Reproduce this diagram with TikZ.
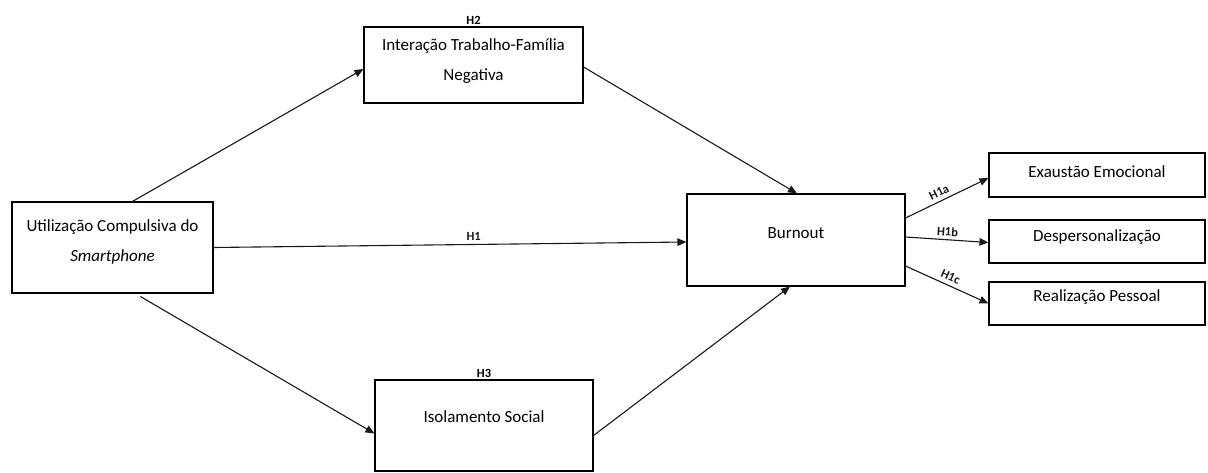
\documentclass[tikz,border=0pt]{standalone}
\usepackage{fontspec}
\setmainfont{Carlito}
\usetikzlibrary{arrows.meta, positioning}

\begin{document}
\begin{tikzpicture}[x=1pt,y=-1pt]
    % Research model: compulsive smartphone use, mediators and burnout dimensions.

    \tikzset{
      box/.style={draw, line width=1.1pt, inner sep=0pt},
      boxtext/.style={font=\fontsize{17}{30}\selectfont, align=center},
      path/.style={-{Triangle[length=9pt,width=7.5pt]}, line width=1.1pt, black!90},
      hyp/.style={font=\fontsize{12.5}{14}\selectfont\bfseries, inner sep=1pt}
    }

    \useasboundingbox (0,0) rectangle (1208,473);

    % --- Boxes
    \node[box, minimum width=201pt, minimum height=91pt,
          label={[boxtext, yshift=5.5pt]center:Utilização Compulsiva do\\\textit{Smartphone}}]
          (use) at (112.5,247.5) {};
    \node[box, minimum width=219pt, minimum height=76pt,
          label={[boxtext, yshift=4pt]center:Interação Trabalho-Família\\Negativa}]
          (ifn) at (473.5,65) {};
    \node[box, minimum width=218pt, minimum height=91pt,
          label={[boxtext, yshift=8.5pt]center:Isolamento Social}]
          (iso) at (484,425.5) {};
    \node[box, minimum width=218pt, minimum height=92pt,
          label={[boxtext, yshift=7pt]center:Burnout}]
          (burn) at (796,240) {};

    % --- Burnout dimensions
    \node[box, minimum width=216pt, minimum height=44pt,
          label={[boxtext, yshift=3pt]center:Exaustão Emocional}]
          (exa) at (1097,175) {};
    \node[box, minimum width=216pt, minimum height=43pt,
          label={[boxtext, yshift=4.5pt]center:Despersonalização}]
          (desp) at (1097,241.5) {};
    \node[box, minimum width=216pt, minimum height=43pt,
          label={[boxtext, yshift=6.5pt]center:Realização Pessoal}]
          (real) at (1097,303.5) {};

    % --- Hypothesis labels on the mediators
    \node[hyp, above=1pt of ifn] (h2) {H2};
    \node[hyp, above=1pt of iso] (h3) {H3};

    % --- Paths
    \draw[path] ([xshift=20pt]use.north) -- ([yshift=-4pt]ifn.west);
    \draw[path] ([xshift=28pt,yshift=-3pt]use.south) -- ([yshift=-8pt]iso.west);
    \draw[path] (use.east) -- node[hyp, above=2pt, pos=0.55] {H1} ([yshift=-2pt]burn.west);
    \draw[path] ([yshift=-2pt]ifn.east) -- ([xshift=1pt]burn.north);
    \draw[path] ([yshift=-10pt]iso.east) -- ([xshift=-6pt]burn.south);

    \draw[path] ([yshift=22pt]burn.east) -- node[hyp, above=3pt, sloped, pos=0.45] {H1a} ([yshift=-3pt]exa.west);
    \draw[path] ([yshift=3pt]burn.east) -- node[hyp, above=2pt, sloped, pos=0.5] {H1b} ([yshift=-1pt]desp.west);
    \draw[path] ([yshift=-26pt]burn.east) -- node[hyp, above=3pt, sloped, pos=0.5] {H1c} (real.west);
\end{tikzpicture}
\end{document}
